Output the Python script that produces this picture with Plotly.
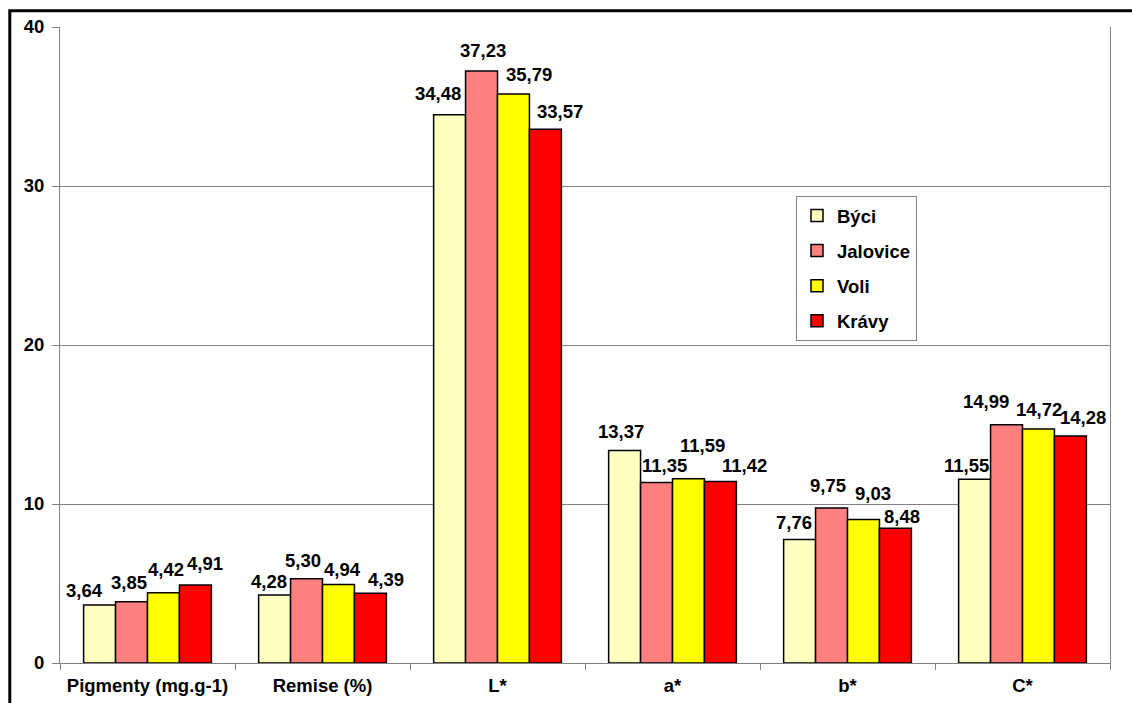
import plotly.graph_objects as go

# Meat colour measurements by cattle category
categories = ["Pigmenty (mg.g-1)", "Remise (%)", "L*", "a*", "b*", "C*"]
series_names = ["Býci", "Jalovice", "Voli", "Krávy"]
byci = [3.64, 4.28, 34.48, 13.37, 7.76, 11.55]
jalovice = [3.85, 5.30, 37.23, 11.35, 9.75, 14.99]
voli = [4.42, 4.94, 35.79, 11.59, 9.03, 14.72]
kravy = [4.91, 4.39, 33.57, 11.42, 8.48, 14.28]
y_ticks = [0, 10, 20, 30, 40]

series_values = [byci, jalovice, voli, kravy]
colors = ["#FFFFC0", "#FF8080", "#FFFF00", "#FF0000"]

# hand-placed value labels: horizontal nudge and baseline gap above the bar (px)
label_dx = [
    [-15, -6, -12, -4, -6, -8],
    [-3, -4, 1, 8, -4, -21],
    [3, 4, 16, 14, 10, 1],
    [10, 16, 15, 24, 7, 13],
]
label_gap = [
    [8, 6, 14, 12, 10, 7],
    [12, 11, 14, 10, 15, 16],
    [16, 8, 12, 26, 19, 12],
    [14, 7, 11, 9, 5, 11],
]

FONT = "Liberation Sans, Arial, sans-serif"
FSIZE = 18.5
BARGAP = 0.27
n_series = len(series_names)
bar_w = (1 - BARGAP) / n_series


def bold(size=FSIZE):
    return dict(family=FONT, size=size, color="#000000", weight="bold")


fig = go.Figure()
for k, (name, vals, col) in enumerate(zip(series_names, series_values, colors)):
    fig.add_trace(go.Bar(
        name=name,
        x=categories,
        y=vals,
        marker=dict(color=col, line=dict(color="#000000", width=1.5)),
        legendgroup=name,
    ))

annotations = []
for k, vals in enumerate(series_values):
    offset = (k - (n_series - 1) / 2) * bar_w
    for i, v in enumerate(vals):
        annotations.append(dict(
            x=i + offset, y=v, xref="x", yref="y",
            text=f"{v:.2f}".replace(".", ","),
            showarrow=False, xanchor="center", yanchor="bottom",
            xshift=label_dx[k][i], yshift=label_gap[k][i] - 4.5,
            borderpad=0,
            font=bold(),
        ))

fig.update_layout(
    width=1132, height=703,
    margin=dict(l=60, r=22, t=27, b=40, autoexpand=False),
    paper_bgcolor="#FFFFFF", plot_bgcolor="#FFFFFF",
    barmode="group", bargap=BARGAP, bargroupgap=0,
    font=bold(),
    annotations=annotations,
    legend=dict(
        x=(796 - 60) / 1050, y=(663 - 196) / 636,
        xanchor="left", yanchor="top",
        bgcolor="#FFFFFF", bordercolor="#808080", borderwidth=1,
        font=bold(),
        tracegroupgap=8,
    ),
    shapes=[dict(
        type="rect", xref="paper", yref="paper",
        x0=(9.8 - 60) / 1050, x1=1.05, y0=-0.2, y1=(663 - 10.7) / 636,
        line=dict(color="#000000", width=3), fillcolor="rgba(0,0,0,0)",
        layer="above",
    )],
)

fig.update_xaxes(
    type="category", automargin=False,
    showline=True, linecolor="#808080", linewidth=1,
    ticks="outside", tickson="boundaries", ticklen=6,
    tickcolor="#808080", tickwidth=1,
    ticklabelstandoff=6,
    showgrid=False,
    tickfont=bold(),
)
fig.update_yaxes(
    range=[0, 40], tickvals=y_ticks, automargin=False,
    showline=True, mirror=True, linecolor="#808080", linewidth=1,
    ticks="outside", ticklen=7, tickcolor="#808080", tickwidth=1,
    ticklabelstandoff=4,
    showgrid=True, gridcolor="#808080", gridwidth=1,
    zeroline=False,
    tickfont=bold(),
)

fig.write_html("out.html")
